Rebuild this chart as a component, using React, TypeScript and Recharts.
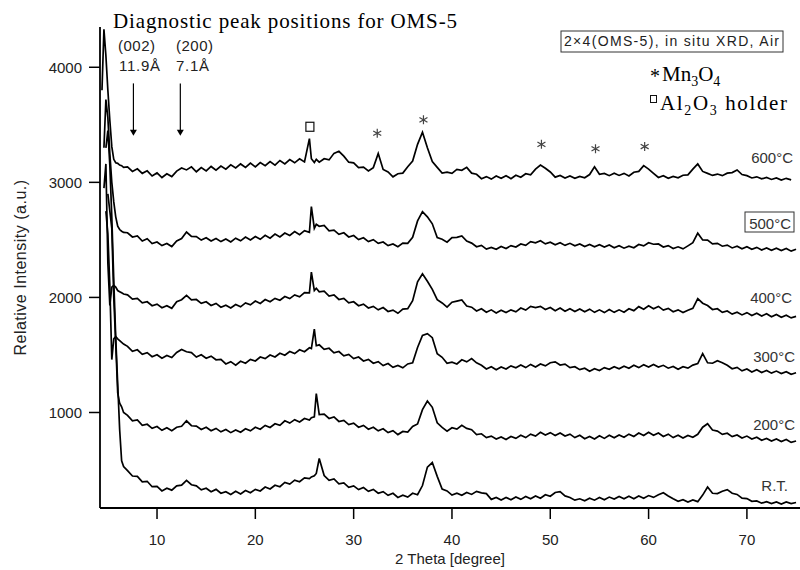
import { LineChart, Line, XAxis, YAxis, ReferenceLine, ReferenceDot } from 'recharts'

// 2 theta grid (degree)
const twoTheta = [
  4.4, 4.6, 4.8, 5.0, 5.2, 5.4, 5.6, 5.8, 6.0, 6.2, 6.4, 6.6,
  7, 7.5, 8, 8.5, 9, 9.5, 10, 10.5, 11, 11.5, 12, 12.5, 13, 13.5, 14, 14.5, 15, 15.5, 16, 16.5,
  17, 17.5, 18, 18.5, 19, 19.5, 20, 20.5, 21, 21.5, 22, 22.5, 23, 23.5, 24, 24.5, 25, 25.5, 25.7, 26, 26.2, 26.5,
  27, 27.5, 28, 28.5, 29, 29.5, 30, 30.5, 31, 31.5, 32, 32.5, 33, 33.5, 34, 34.5, 35, 35.5, 36, 36.5,
  37, 37.5, 38, 38.5, 39, 39.5, 40, 40.5, 41, 41.5, 42, 42.5, 43, 43.5, 44, 44.5, 45, 45.5, 46, 46.5,
  47, 47.5, 48, 48.5, 49, 49.5, 50, 50.5, 51, 51.5, 52, 52.5, 53, 53.5, 54, 54.5, 55, 55.5, 56, 56.5,
  57, 57.5, 58, 58.5, 59, 59.5, 60, 60.5, 61, 61.5, 62, 62.5, 63, 63.5, 64, 64.5, 65, 65.5, 66, 66.5,
  67, 67.5, 68, 68.5, 69, 69.5, 70, 70.5, 71, 71.5, 72, 72.5, 73, 73.5, 74, 74.5, 75,
]

const int600 = [
  3800, 4330, 4100, 3800, 3540, 3310, 3200, 3170, 3165, 3150, 3145, 3130,
  3135, 3095, 3118, 3078, 3100, 3055, 3082, 3042, 3075, 3050, 3098, 3125, 3108, 3135, 3092, 3128, 3100, 3138, 3105, 3142,
  3115, 3152, 3125, 3160, 3130, 3168, 3135, 3172, 3145, 3180, 3150, 3190, 3160, 3198, 3170, 3205, 3178, 3380, 3205, 3172, 3200, 3175,
  3205, 3195, 3252, 3270, 3228, 3175, 3170, 3128, 3132, 3100, 3128, 3250, 3112, 3090, 3048, 3075, 3080, 3135, 3185, 3330,
  3435, 3300, 3180, 3130, 3080, 3088, 3078, 3112, 3105, 3130, 3080, 3070, 3032, 3050, 3028, 3055, 3035, 3058, 3032, 3062,
  3045, 3075, 3065, 3115, 3150, 3122, 3090, 3045, 3060, 3038, 3055, 3035, 3052, 3040, 3068, 3135, 3070, 3078, 3058, 3080,
  3060, 3078, 3055, 3088, 3095, 3145, 3115, 3078, 3042, 3058, 3036, 3052, 3040, 3062, 3065, 3115, 3160, 3095, 3078, 3060,
  3072, 3058, 3080, 3085, 3108, 3068, 3058, 3038, 3048, 3030, 3042, 3025, 3038, 3020, 3035, 3022, null,
]

const int500 = [
  null, 3300, 3720, 3560, 3250, 3000, 2830, 2700, 2620, 2590, 2575, 2565,
  2562, 2525, 2535, 2490, 2510, 2468, 2482, 2450, 2468, 2442, 2490, 2512, 2568, 2530, 2528, 2498, 2518, 2490, 2512, 2485,
  2508, 2482, 2515, 2492, 2525, 2500, 2530, 2505, 2540, 2515, 2550, 2525, 2560, 2538, 2572, 2545, 2580, 2565, 2790, 2600, 2635, 2618,
  2625, 2578, 2585, 2548, 2562, 2525, 2538, 2502, 2518, 2485, 2502, 2470, 2482, 2450, 2465, 2440, 2472, 2470, 2522, 2665,
  2745, 2700, 2640, 2520, 2505, 2480, 2520, 2522, 2535, 2490, 2472, 2440, 2452, 2420, 2435, 2418, 2442, 2425, 2450, 2438,
  2465, 2452, 2485, 2475, 2492, 2465, 2480, 2458, 2475, 2452, 2470, 2448, 2465, 2442, 2460, 2440, 2458, 2438, 2455, 2432,
  2450, 2428, 2445, 2432, 2460, 2448, 2475, 2462, 2465, 2438, 2450, 2425, 2440, 2422, 2448, 2475, 2558, 2500, 2498, 2465,
  2470, 2445, 2455, 2430, 2445, 2422, 2440, 2418, 2435, 2412, 2430, 2410, 2428, 2408, 2425, 2402, 2418,
]

const int400 = [
  null, 2950, 3160, 2300, 1930, 2090, 2105, 2090, 2060, 2050, 2040, 2030,
  2022, 1985, 1992, 1952, 1962, 1928, 1942, 1910, 1928, 1905, 1962, 1980, 2018, 1978, 1982, 1948, 1962, 1930, 1948, 1915,
  1932, 1908, 1938, 1918, 1952, 1935, 1968, 1948, 1982, 1962, 1992, 1975, 2008, 1990, 2022, 2005, 2042, 2040, 2220, 2060, 2080, 2048,
  2055, 2012, 2022, 1982, 1992, 1952, 1962, 1928, 1942, 1908, 1922, 1892, 1912, 1878, 1890, 1862, 1898, 1902, 1972, 2135,
  2205, 2140, 2070, 1980, 1952, 1915, 1958, 1968, 1978, 1925, 1915, 1882, 1902, 1872, 1892, 1865, 1888, 1868, 1892, 1875,
  1908, 1890, 1922, 1912, 1922, 1895, 1912, 1885, 1908, 1880, 1902, 1878, 1900, 1875, 1898, 1870, 1892, 1868, 1895, 1870,
  1892, 1872, 1902, 1885, 1920, 1898, 1928, 1902, 1922, 1890, 1905, 1875, 1892, 1868, 1888, 1905, 1990, 1950, 1930, 1895,
  1902, 1870, 1882, 1855, 1872, 1848, 1868, 1842, 1862, 1838, 1858, 1832, 1852, 1828, 1845, 1822, 1835,
]

const int300 = [
  null, null, 2750, 2550, 2100, 1460, 1640, 1660, 1640, 1625, 1610, 1595,
  1575, 1532, 1545, 1505, 1520, 1485, 1502, 1472, 1495, 1478, 1522, 1548, 1528, 1520, 1482, 1502, 1472, 1490, 1458, 1462,
  1422, 1442, 1412, 1445, 1428, 1462, 1448, 1482, 1468, 1500, 1482, 1515, 1498, 1530, 1512, 1545, 1528, 1562, 1555, 1725, 1580, 1588,
  1548, 1558, 1518, 1530, 1492, 1505, 1468, 1482, 1448, 1462, 1428, 1442, 1408, 1425, 1392, 1408, 1388, 1422, 1432, 1565,
  1670, 1685, 1650, 1510, 1480, 1428, 1438, 1422, 1458, 1440, 1468, 1432, 1410, 1378, 1398, 1372, 1395, 1378, 1405, 1388,
  1412, 1390, 1418, 1395, 1422, 1405, 1432, 1440, 1412, 1420, 1390, 1398, 1372, 1385, 1358, 1380, 1365, 1390, 1375, 1398,
  1380, 1402, 1385, 1410, 1390, 1415, 1395, 1418, 1395, 1410, 1385, 1400, 1375, 1398, 1385, 1412, 1425, 1512, 1432, 1428,
  1450, 1432, 1410, 1380, 1392, 1362, 1378, 1352, 1372, 1348, 1365, 1342, 1360, 1338, 1355, 1332, 1345,
]

const int200 = [
  null, null, null, 2900, 2750, 2600, 2000, 1600, 1170, 1080, 1050, 1000,
  975, 928, 935, 888, 898, 862, 878, 845, 868, 842, 872, 880, 928, 885, 882, 852, 872, 842, 862, 832,
  852, 825, 848, 828, 858, 840, 872, 855, 888, 870, 902, 888, 928, 908, 938, 918, 948, 935, 955, 962, 1165, 982,
  985, 948, 962, 922, 932, 895, 908, 872, 888, 855, 872, 840, 858, 825, 842, 808, 835, 830, 878, 900,
  1025, 1100, 1045, 910, 870, 838, 868, 855, 888, 862, 850, 808, 815, 782, 795, 770, 788, 765, 792, 775,
  802, 782, 812, 795, 828, 805, 825, 800, 822, 795, 812, 782, 802, 772, 792, 770, 798, 775, 802, 780,
  805, 785, 812, 792, 822, 800, 828, 802, 822, 792, 812, 782, 802, 778, 800, 785, 810, 872, 902, 848,
  838, 810, 820, 790, 805, 778, 795, 770, 785, 758, 775, 752, 770, 748, 765, 740, 752,
]

const intRT = [
  null, null, 3300, 3450, 3150, 2700, 2150, 1650, 1250, 850, 580, 530,
  495, 448, 445, 398, 402, 355, 358, 318, 342, 325, 362, 368, 410, 372, 362, 328, 342, 312, 332, 298,
  312, 288, 315, 292, 322, 302, 332, 318, 352, 335, 368, 355, 392, 378, 412, 398, 432, 425, 440, 450, 470, 600,
  452, 410, 422, 380, 388, 350, 362, 330, 348, 315, 332, 298, 312, 280, 298, 262, 282, 265, 298, 285,
  365, 525, 565, 445, 335, 318, 282, 298, 280, 305, 288, 315, 302, 295, 245, 262, 240, 262, 242, 265,
  245, 270, 250, 275, 255, 285, 272, 305, 312, 275, 262, 238, 250, 232, 255, 238, 262, 242, 265, 248,
  270, 250, 272, 250, 275, 255, 278, 262, 285, 302, 275, 250, 228, 242, 222, 240, 225, 282, 352, 298,
  295, 315, 330, 298, 288, 255, 252, 228, 232, 212, 225, 208, 222, 205, 222, 208, 218,
]

const xTicks = [10, 20, 30, 40, 50, 60, 70]
const yTicks = [1000, 2000, 3000, 4000]

// Mn3O4 reflections marked with *, Al2O3 holder marked with a square
const mnPeakTheta = [32.4, 37.1, 49.1, 54.6, 59.6]
const mnPeakLevel = [3427, 3543, 3330, 3292, 3311]
const holderTheta = 25.55
const holderLevel = 3483

// diagnostic arrows (002) and (200)
const arrowTheta = [7.6, 12.37]
const arrowTop = 3860
const arrowTip = 3406

const series = [
  { key: 'c600', values: int600 },
  { key: 'c500', values: int500 },
  { key: 'c400', values: int400 },
  { key: 'c300', values: int300 },
  { key: 'c200', values: int200 },
  { key: 'rt', values: intRT },
]

const rows = twoTheta.map((t, i) => {
  const row: Record<string, number | null> = { t }
  series.forEach(s => { row[s.key] = s.values[i] })
  return row
})

const tempLabels = [
  { text: '600°C', x: 793, y: 163 },
  { text: '500°C', x: 791, y: 229, boxed: true },
  { text: '400°C', x: 792, y: 303 },
  { text: '300°C', x: 795, y: 362 },
  { text: '200°C', x: 795, y: 430 },
  { text: 'R.T.', x: 788, y: 491 },
]

const sans = '"Liberation Sans", Arial, sans-serif'
const serif = '"Liberation Serif", "Times New Roman", serif'

const Asterisk = (props: any) => {
  const { cx, cy } = props
  return (
    <path
      d={`M${cx},${cy - 4.5}V${cy + 4.5}M${cx - 4},${cy - 2.3}L${cx + 4},${cy + 2.3}M${cx - 4},${cy + 2.3}L${cx + 4},${cy - 2.3}`}
      stroke="#444"
      strokeWidth={1.2}
      fill="none"
    />
  )
}

const HolderBox = (props: any) => {
  const { cx, cy } = props
  return <rect x={cx - 4} y={cy - 4.5} width={8} height={9} fill="none" stroke="#111" strokeWidth={1.2} />
}

const ArrowHead = (props: any) => {
  const { cx, cy } = props
  return <path d={`M${cx - 3.5},${cy - 6}L${cx + 3.5},${cy - 6}L${cx},${cy}Z`} fill="#000" />
}

export default function App() {
  return (
    <div style={{ position: 'absolute', left: 0, top: 0, width: 800, height: 570, background: '#fff' }}>
      <LineChart width={800} height={570} data={rows} margin={{ top: 27, right: 0, left: 0, bottom: 0 }}>
        <XAxis
          type="number"
          dataKey="t"
          domain={[4.2, 75.4]}
          ticks={xTicks}
          allowDataOverflow
          height={62}
          tickSize={11}
          tickMargin={15}
          axisLine={{ stroke: '#000', strokeWidth: 2 }}
          tickLine={{ stroke: '#000', strokeWidth: 1.5 }}
          tick={{ fontSize: 15, fill: '#222', fontFamily: sans }}
          label={{ value: '2 Theta [degree]', position: 'insideBottom', offset: 6, style: { fontSize: 15, fill: '#222', fontFamily: sans } }}
        />
        <YAxis
          type="number"
          domain={[170, 4350]}
          ticks={yTicks}
          allowDataOverflow
          width={100}
          tickSize={11}
          tickMargin={7}
          axisLine={{ stroke: '#000', strokeWidth: 1.8 }}
          tickLine={{ stroke: '#000', strokeWidth: 1.5 }}
          tick={{ fontSize: 15, fill: '#222', fontFamily: sans }}
          label={{
            value: 'Relative Intensity (a.u.)',
            angle: -90,
            position: 'insideLeft',
            offset: 20,
            style: { fontSize: 16, fill: '#222', fontFamily: sans, textAnchor: 'middle', letterSpacing: 0.5 },
          }}
        />
        {series.map(s => (
          <Line
            key={s.key}
            type="linear"
            dataKey={s.key}
            stroke="#000"
            strokeWidth={1.7}
            dot={false}
            isAnimationActive={false}
          />
        ))}
        {arrowTheta.map(t => (
          <ReferenceLine
            key={`line-${t}`}
            segment={[{ x: t, y: arrowTop }, { x: t, y: arrowTip + 45 }]}
            stroke="#000"
            strokeWidth={1.2}
            ifOverflow="visible"
          />
        ))}
        {arrowTheta.map(t => (
          <ReferenceDot key={`head-${t}`} x={t} y={arrowTip} r={0} shape={ArrowHead} ifOverflow="visible" />
        ))}
        {mnPeakTheta.map((t, i) => (
          <ReferenceDot key={`mn-${t}`} x={t} y={mnPeakLevel[i]} r={0} shape={Asterisk} ifOverflow="visible" />
        ))}
        <ReferenceDot x={holderTheta} y={holderLevel} r={0} shape={HolderBox} ifOverflow="visible" />
      </LineChart>

      <svg width={800} height={570} style={{ position: 'absolute', left: 0, top: 0, pointerEvents: 'none' }}>
        <text x={113} y={28} fontFamily={serif} fontSize={21} fill="#000" textLength={344} lengthAdjust="spacing">
          Diagnostic peak positions for OMS-5
        </text>

        <g fontFamily={sans} fontSize={15} fill="#222">
          <text x={118} y={51} textLength={37} lengthAdjust="spacing">(002)</text>
          <text x={119} y={71} textLength={41} lengthAdjust="spacing">11.9Å</text>
          <text x={176} y={51} textLength={37} lengthAdjust="spacing">(200)</text>
          <text x={176} y={71} textLength={33} lengthAdjust="spacing">7.1Å</text>
        </g>

        <rect x={561} y={31} width={222} height={21} fill="#fff" stroke="#333" strokeWidth={1} />
        <text x={564} y={46} fontFamily={sans} fontSize={14} fill="#222" textLength={215} lengthAdjust="spacing">
          2×4(OMS-5), in situ XRD, Air
        </text>

        <text x={650} y={83} fontFamily={serif} fontSize={20} fill="#000">*</text>
        <text x={662} y={81} fontFamily={serif} fontSize={21} fill="#000">
          Mn<tspan dy={5} fontSize={14}>3</tspan><tspan dy={-5}>O</tspan><tspan dy={5} fontSize={14}>4</tspan>
        </text>

        <rect x={650.5} y={95.5} width={6} height={7} fill="none" stroke="#111" strokeWidth={1} />
        <text x={660} y={110} fontFamily={serif} fontSize={21} fill="#000" textLength={127} lengthAdjust="spacing">
          Al<tspan dy={5} fontSize={14}>2</tspan><tspan dy={-5}>O</tspan><tspan dy={5} fontSize={14}>3</tspan><tspan dy={-5}> holder</tspan>
        </text>

        {tempLabels.map(l => (
          <g key={l.text}>
            {l.boxed && <rect x={745} y={212} width={49} height={20} fill="#fff" stroke="#333" strokeWidth={1} />}
            <text x={l.x} y={l.y} textAnchor="end" fontFamily={sans} fontSize={15} fill="#333">
              {l.text}
            </text>
          </g>
        ))}
      </svg>
    </div>
  )
}
